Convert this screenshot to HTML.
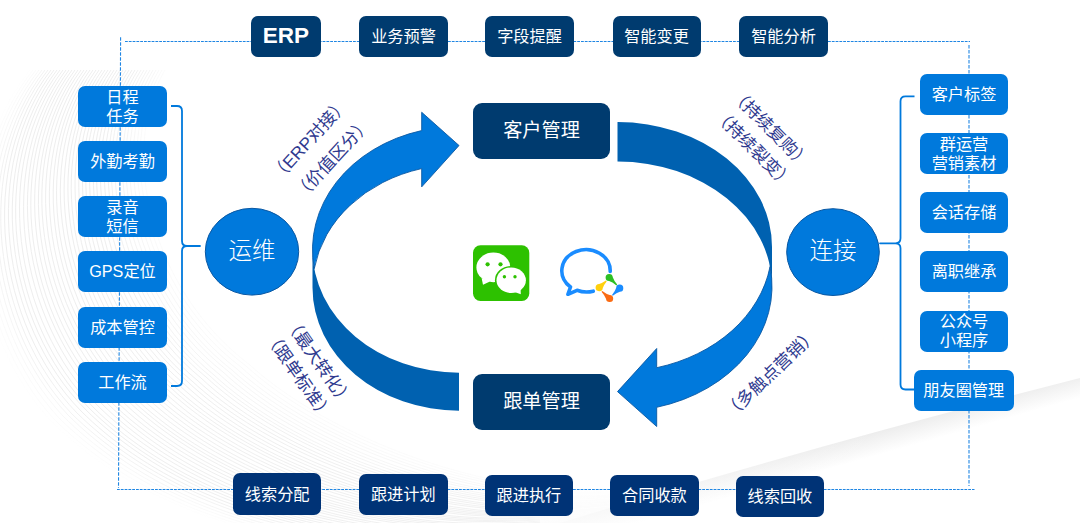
<!DOCTYPE html><html lang="zh"><head><meta charset="utf-8"><title>CRM</title><style>
html,body{margin:0;padding:0;background:#fff}
body{width:1080px;height:523px;position:relative;overflow:hidden;font-family:"Liberation Sans","Noto Sans CJK SC",sans-serif}
svg{position:absolute;left:0;top:0}
.b{position:absolute;box-sizing:border-box;display:flex;align-items:center;justify-content:center;text-align:center;color:#fff;line-height:1.17;overflow:hidden;font-family:"Liberation Sans","Noto Sans CJK SC",sans-serif}
.t{position:absolute;color:#2f3a8f;white-space:nowrap;transform-origin:0 0;line-height:1;font-family:"Liberation Sans","Noto Sans CJK SC",sans-serif}
</style></head><body>
<svg width="1080" height="523" viewBox="0 0 1080 523"><defs><clipPath id="bgc"><rect x="0" y="70" width="1080" height="453"/></clipPath><linearGradient id="fade" x1="0" x2="1" y1="0" y2="0"><stop offset="0" stop-color="#fff" stop-opacity="0"/><stop offset="0.42" stop-color="#fff" stop-opacity="0.15"/><stop offset="0.7" stop-color="#fff" stop-opacity="1"/><stop offset="1" stop-color="#fff" stop-opacity="1"/></linearGradient><linearGradient id="fade2" x1="0" x2="1" y1="0" y2="0"><stop offset="0" stop-color="#fff" stop-opacity="0.75"/><stop offset="1" stop-color="#fff" stop-opacity="0"/></linearGradient><linearGradient id="stk" gradientUnits="userSpaceOnUse" x1="800" y1="448.5" x2="807.5" y2="475"><stop offset="0" stop-color="#e9e9e9"/><stop offset="1" stop-color="#fff"/></linearGradient></defs><g clip-path="url(#bgc)" fill="none" stroke="#eeeeee" stroke-width="1"><path d="M165 70 C118 150 150 290 250 365 C310 420 430 478 560 490 C700 502 900 440 1080 392" stroke-opacity="0.25"/><path d="M162 70 C114 150 146 291 246 366 C306 421 425 479 555 491 C695 503 896 442 1080 393" stroke-opacity="0.32"/><path d="M159 70 C111 151 142 292 241 367 C301 423 420 480 550 492 C689 505 891 444 1080 393" stroke-opacity="0.38"/><path d="M156 70 C107 151 138 293 237 369 C297 424 415 481 545 494 C684 506 887 446 1080 394" stroke-opacity="0.45"/><path d="M153 70 C103 152 134 294 232 370 C292 425 410 482 540 495 C679 507 882 448 1080 394" stroke-opacity="0.52"/><path d="M150 70 C99 152 130 294 228 371 C288 427 404 484 534 496 C673 508 878 450 1080 395" stroke-opacity="0.58"/><path d="M147 70 C96 153 126 295 223 372 C283 428 399 485 529 497 C668 510 873 452 1080 396" stroke-opacity="0.65"/><path d="M144 70 C92 153 122 296 219 374 C279 429 394 486 524 499 C663 511 869 454 1080 396" stroke-opacity="0.72"/><path d="M141 70 C88 154 118 297 214 375 C274 431 389 487 519 500 C657 512 864 456 1080 397" stroke-opacity="0.78"/><path d="M138 70 C84 154 114 298 210 376 C270 432 384 488 514 501 C652 514 860 458 1080 398" stroke-opacity="0.85"/><path d="M135 70 C81 154 110 299 206 377 C266 433 379 489 509 502 C647 515 856 460 1080 398" stroke-opacity="0.92"/><path d="M132 70 C77 155 106 300 201 378 C261 435 374 490 504 503 C641 516 851 462 1080 399" stroke-opacity="0.98"/><path d="M129 70 C73 155 101 301 197 380 C257 436 369 491 499 505 C636 517 847 464 1080 399" stroke-opacity="1.00"/><path d="M126 70 C69 156 97 302 192 381 C252 437 364 492 494 506 C631 519 842 466 1080 400" stroke-opacity="1.00"/><path d="M123 70 C66 156 93 302 188 382 C248 439 358 494 488 507 C625 520 838 468 1080 401" stroke-opacity="1.00"/><path d="M120 70 C62 157 89 303 183 383 C243 440 353 495 483 508 C620 521 833 470 1080 401" stroke-opacity="1.00"/><path d="M117 70 C58 157 85 304 179 385 C239 441 348 496 478 510 C615 523 829 472 1080 402" stroke-opacity="1.00"/><path d="M114 70 C55 158 81 305 174 386 C234 443 343 497 473 511 C609 524 824 474 1080 403" stroke-opacity="1.00"/><path d="M111 70 C51 158 77 306 170 387 C230 444 338 498 468 512 C604 525 820 476 1080 403" stroke-opacity="1.00"/><path d="M108 70 C47 158 73 307 166 388 C226 445 333 499 463 513 C599 526 816 478 1080 404" stroke-opacity="1.00"/><path d="M105 70 C43 159 69 308 161 389 C221 447 328 500 458 514 C593 528 811 480 1080 404" stroke-opacity="1.00"/><path d="M102 70 C40 159 65 309 157 391 C217 448 323 501 453 516 C588 529 807 482 1080 405" stroke-opacity="1.00"/><path d="M99 70 C36 160 61 310 152 392 C212 449 318 502 448 517 C583 530 802 484 1080 406" stroke-opacity="1.00"/><path d="M96 70 C32 160 57 310 148 393 C208 451 312 504 442 518 C577 532 798 486 1080 406" stroke-opacity="1.00"/><path d="M93 70 C28 161 53 311 143 394 C203 452 307 505 437 519 C572 533 793 488 1080 407" stroke-opacity="1.00"/><path d="M90 70 C25 161 49 312 139 396 C199 453 302 506 432 521 C567 534 789 490 1080 408" stroke-opacity="1.00"/><path d="M87 70 C21 162 45 313 134 397 C194 455 297 507 427 522 C561 536 784 492 1080 408" stroke-opacity="1.00"/><path d="M84 70 C17 162 41 314 130 398 C190 456 292 508 422 523 C556 537 780 494 1080 409" stroke-opacity="1.00"/><path d="M81 70 C13 162 37 315 126 399 C186 457 287 509 417 524 C551 538 776 496 1080 409" stroke-opacity="1.00"/><path d="M78 70 C10 163 33 316 121 400 C181 459 282 510 412 525 C545 539 771 498 1080 410" stroke-opacity="1.00"/><path d="M75 70 C6 163 29 317 117 402 C177 460 277 511 407 527 C540 541 767 500 1080 411" stroke-opacity="1.00"/><path d="M72 70 C2 164 25 318 112 403 C172 461 272 512 402 528 C535 542 762 502 1080 411" stroke-opacity="1.00"/><path d="M69 70 C-1 164 21 318 108 404 C168 463 266 514 396 529 C529 543 758 504 1080 412" stroke-opacity="1.00"/><path d="M66 70 C-5 165 17 319 103 405 C163 464 261 515 391 530 C524 545 753 506 1080 413" stroke-opacity="1.00"/><path d="M63 70 C-9 165 12 320 99 407 C159 465 256 516 386 532 C519 546 749 508 1080 413" stroke-opacity="1.00"/><path d="M60 70 C-13 166 8 321 94 408 C154 467 251 517 381 533 C513 547 744 510 1080 414" stroke-opacity="1.00"/><path d="M57 70 C-16 166 4 322 90 409 C150 468 246 518 376 534 C508 548 740 512 1080 414" stroke-opacity="1.00"/><path d="M54 70 C-20 166 0 323 86 410 C146 469 241 519 371 535 C503 550 736 514 1080 415" stroke-opacity="1.00"/><path d="M51 70 C-24 167 -4 324 81 411 C141 471 236 520 366 536 C497 551 731 516 1080 416" stroke-opacity="1.00"/><path d="M48 70 C-28 167 -8 325 77 413 C137 472 231 521 361 538 C492 552 727 518 1080 416" stroke-opacity="0.89"/><path d="M45 70 C-31 168 -12 326 72 414 C132 473 226 522 356 539 C487 554 722 520 1080 417" stroke-opacity="0.74"/><path d="M42 70 C-35 168 -16 326 68 415 C128 475 220 524 350 540 C481 555 718 522 1080 418" stroke-opacity="0.59"/><path d="M39 70 C-39 169 -20 327 63 416 C123 476 215 525 345 541 C476 556 713 524 1080 418" stroke-opacity="0.44"/><path d="M36 70 C-43 169 -24 328 59 418 C119 477 210 526 340 543 C471 557 709 526 1080 419" stroke-opacity="0.30"/><path d="M33 70 C-46 170 -28 329 54 419 C114 479 205 527 335 544 C465 559 704 528 1080 419" stroke-opacity="0.15"/><path d="M30 70 C-50 170 -32 330 50 420 C110 480 200 528 330 545 C460 560 700 530 1080 420" stroke-opacity="0.05"/></g><rect x="0" y="70" width="1080" height="453" fill="url(#fade)"/><path d="M560 523 Q800 450 1080 378 V420 L1080 523 Z" fill="url(#stk)"/><rect x="540" y="400" width="340" height="123" fill="url(#fade2)"/><g fill="none" stroke="#1f86e3" stroke-width="1.1"><path d="M125 41.5H970" stroke-dasharray="2.8 1"/><path d="M120.6 37.3L118.5 488" stroke-dasharray="3.5 1.5"/><path d="M117 489.5H974.5" stroke-dasharray="2.8 1"/><path d="M969 45V486" stroke-dasharray="3.5 1.5"/></g><g fill="none" stroke="#0079DC" stroke-width="1.8" stroke-linejoin="round"><path d="M171 106 H177 Q182 106 182 111 V241 Q182 246 187 246 H200 H187 Q182 246 182 251 V381 Q182 386 177 386 H171"/><path d="M914.5 96.3 H905.5 Q900.5 96.3 900.5 101.3 V238.3 Q900.5 243.3 895.5 243.3 H880 H895.5 Q900.5 243.3 900.5 248.3 V384.5 Q900.5 389.5 905.5 389.5 H914.5"/></g><g transform="translate(617.5 122)"><path d="M154.50 164.50 A154.50 124.90 0 0 0 0 39.60 L0 0 A154.50 124.90 0 0 1 154.50 124.90 Z" fill="#0061B0"/><path d="M0 269.60 L39.20 226.51 L39.20 245.71 A154.50 124.90 0 0 0 152.55 144.70 A154.50 124.90 0 0 1 39.20 285.31 L39.20 304.51 Z" fill="#0079DC" stroke="#0a58a3" stroke-width="0.9"/></g><g transform="translate(459 410.7) scale(-1 -1)"><path d="M146.50 161.10 A146.50 123.10 0 0 0 0 38.00 L0 0 A146.50 123.10 0 0 1 146.50 123.10 Z" fill="#0061B0"/><path d="M0 265.20 L37.30 223.84 L37.30 242.14 A146.50 123.10 0 0 0 144.74 142.10 A146.50 123.10 0 0 1 37.30 280.14 L37.30 298.44 Z" fill="#0079DC" stroke="#0a58a3" stroke-width="0.9"/></g><ellipse cx="252" cy="251.7" rx="46.7" ry="43.4" fill="#0079DC" stroke="#0a58a3" stroke-width="1"/><ellipse cx="833" cy="252.1" rx="46.3" ry="43.4" fill="#0079DC" stroke="#0a58a3" stroke-width="1"/>
<g>
<rect x="473" y="245.3" width="56.3" height="55.6" rx="7.5" fill="#2DC100"/>
<path d="M481.6 278 L483 284.7 L490 281.6 Z" fill="#fff"/>
<ellipse cx="493.4" cy="267.4" rx="17" ry="14.8" fill="#fff"/>
<ellipse cx="511.2" cy="280.3" rx="16.3" ry="14.4" fill="#2DC100"/>
<ellipse cx="511.2" cy="280.3" rx="14.7" ry="12.8" fill="#fff"/>
<path d="M514.5 292 L520.8 294.3 L520.6 288.5 Z" fill="#fff"/>
<circle cx="487.6" cy="264.3" r="2.1" fill="#2DC100"/><circle cx="500.5" cy="264.3" r="2.1" fill="#2DC100"/>
<circle cx="504.4" cy="276.7" r="1.7" fill="#2DC100"/><circle cx="515" cy="276.7" r="1.7" fill="#2DC100"/>
</g>
<g fill="none" stroke="#1A8CFF" stroke-width="3.6" stroke-linecap="round" stroke-linejoin="round">
<path d="M610.2 271.5 A24.2 21.1 0 1 0 570.5 287 L567.9 294.3 L577 290.3 A24.2 21.1 0 0 0 593.2 291.2"/>
</g>
<path d="M616.41 285.39 Q612.28 282.06 609.04 281.10 A3.6 3.6 0 1 1 612.79 277.29 Q613.80 280.52 617.19 284.61 Z" fill="#2DBF23"/><path d="M612.01 295.01 Q615.10 291.22 616.11 287.99 A3.6 3.6 0 1 1 619.86 291.80 Q616.61 292.76 612.79 295.79 Z" fill="#1A8CFF"/><path d="M602.28 290.90 Q606.39 294.02 609.67 294.90 A3.6 3.6 0 1 1 606.01 298.81 Q604.92 295.60 601.52 291.70 Z" fill="#FA6B13"/><path d="M606.67 281.40 Q603.89 284.71 602.79 287.92 A3.6 3.6 0 1 1 599.14 284.00 Q602.42 283.13 605.93 280.60 Z" fill="#FFD00D"/></svg>
<div class="b" style="left:251px;top:16px;width:70.0px;height:41.0px;background:#003B6F;border-radius:7px;font-size:22.5px;font-weight:bold">ERP</div>
<div class="b" style="left:359px;top:16px;width:89.0px;height:41.0px;background:#003B6F;border-radius:7px;font-size:16.2px">业务预警</div>
<div class="b" style="left:485px;top:16px;width:89.0px;height:41.0px;background:#003B6F;border-radius:7px;font-size:16.2px">字段提醒</div>
<div class="b" style="left:612.5px;top:16px;width:88.0px;height:41.0px;background:#003B6F;border-radius:7px;font-size:16.2px">智能变更</div>
<div class="b" style="left:739px;top:16px;width:89.0px;height:41.0px;background:#003B6F;border-radius:7px;font-size:16.2px">智能分析</div>
<div class="b" style="left:233px;top:473.3px;width:88.3px;height:42.2px;background:#003376;border-radius:7px;font-size:16.2px">线索分配</div>
<div class="b" style="left:359px;top:474.3px;width:88.5px;height:41.0px;background:#003376;border-radius:7px;font-size:16.2px">跟进计划</div>
<div class="b" style="left:484.5px;top:475px;width:88.8px;height:41.3px;background:#003376;border-radius:7px;font-size:16.2px">跟进执行</div>
<div class="b" style="left:610px;top:475px;width:88.8px;height:41.3px;background:#003376;border-radius:7px;font-size:16.2px">合同收款</div>
<div class="b" style="left:735.5px;top:476.3px;width:88.8px;height:40.7px;background:#003376;border-radius:7px;font-size:16.2px">线索回收</div>
<div class="b" style="left:78px;top:86.3px;width:89.0px;height:41.0px;background:#0079DC;border-radius:7px;font-size:16.2px">日程<br>任务</div>
<div class="b" style="left:78px;top:141px;width:89.0px;height:41.0px;background:#0079DC;border-radius:7px;font-size:16.2px">外勤考勤</div>
<div class="b" style="left:78px;top:196px;width:89.0px;height:41.0px;background:#0079DC;border-radius:7px;font-size:16.2px">录音<br>短信</div>
<div class="b" style="left:78px;top:251.2px;width:89.0px;height:41.0px;background:#0079DC;border-radius:7px;font-size:16.2px">GPS定位</div>
<div class="b" style="left:78px;top:306.7px;width:89.0px;height:41.0px;background:#0079DC;border-radius:7px;font-size:16.2px">成本管控</div>
<div class="b" style="left:78px;top:362px;width:89.0px;height:41.0px;background:#0079DC;border-radius:7px;font-size:16.2px">工作流</div>
<div class="b" style="left:920px;top:74px;width:88.0px;height:41.0px;background:#0079DC;border-radius:7px;font-size:16.2px">客户标签</div>
<div class="b" style="left:920px;top:133.3px;width:88.0px;height:41.0px;background:#0079DC;border-radius:7px;font-size:16.2px">群运营<br>营销素材</div>
<div class="b" style="left:920px;top:192px;width:88.0px;height:41.0px;background:#0079DC;border-radius:7px;font-size:16.2px">会话存储</div>
<div class="b" style="left:920px;top:251.3px;width:88.0px;height:41.0px;background:#0079DC;border-radius:7px;font-size:16.2px">离职继承</div>
<div class="b" style="left:920px;top:310.5px;width:88.0px;height:41.0px;background:#0079DC;border-radius:7px;font-size:16.2px">公众号<br>小程序</div>
<div class="b" style="left:914px;top:369.5px;width:99.5px;height:41.0px;background:#0079DC;border-radius:7px;font-size:16.2px">朋友圈管理</div>
<div class="b" style="left:473px;top:103px;width:137.0px;height:56.3px;background:#003B6F;border-radius:9px;font-size:19.2px">客户管理</div>
<div class="b" style="left:473px;top:374px;width:137.0px;height:56.0px;background:#003B6F;border-radius:9px;font-size:19.2px">跟单管理</div>
<div class="t" style="left:252px;top:251.5px;font-size:23.5px;font-weight:300;color:#fff;transform:rotate(0deg) translate(-50%,-50%)">运维</div>
<div class="t" style="left:833px;top:251.5px;font-size:23.5px;font-weight:300;color:#fff;transform:rotate(0deg) translate(-50%,-50%)">连接</div>
<div class="t" style="left:309.8px;top:140.1px;font-size:17.3px;transform:rotate(-47.5deg) translate(-50%,-50%)">（ERP对接）</div>
<div class="t" style="left:333.4px;top:159px;font-size:17.3px;transform:rotate(-47.5deg) translate(-50%,-50%)">（价值区分）</div>
<div class="t" style="left:769.6px;top:128.9px;font-size:17.3px;transform:rotate(45deg) translate(-50%,-50%)">（持续复购）</div>
<div class="t" style="left:752.9px;top:149px;font-size:17.3px;transform:rotate(45deg) translate(-50%,-50%)">（持续裂变）</div>
<div class="t" style="left:318px;top:361.5px;font-size:17.3px;transform:rotate(55deg) translate(-50%,-50%)">（最大转化）</div>
<div class="t" style="left:297.9px;top:376.2px;font-size:17.3px;transform:rotate(55deg) translate(-50%,-50%)">（跟单标准）</div>
<div class="t" style="left:771.3px;top:373.9px;font-size:17.3px;transform:rotate(-43.6deg) translate(-50%,-50%)">（多触点营销）</div>
</body></html>
